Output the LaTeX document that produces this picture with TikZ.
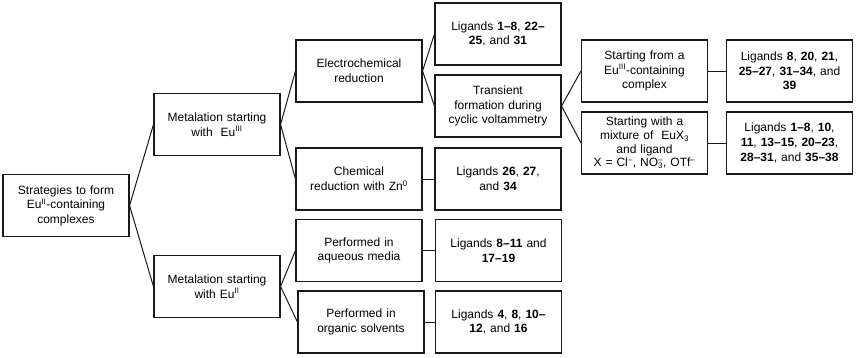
\documentclass[tikz,border=0pt]{standalone}
\usepackage{fontspec}
\setmainfont{Liberation Sans}
\usepackage{tikz}
\tikzset{
  stratbox/.style={draw=black!90, line width=1.1pt, minimum width=126pt, minimum height=62pt,
    text width=124pt, inner sep=1pt, align=center, font=\fontsize{12}{14.6}\selectfont},
  link/.style={draw=black!90, line width=1pt}
}
\newcommand{\Eu}[1]{Eu\textsuperscript{#1}}

\begin{document}
\begin{tikzpicture}[x=1pt, y=1pt]
    \useasboundingbox (0,0) rectangle (856,-357);

    % Levels from left to right
    \node[stratbox] (root) at (66,-205.5) {Strategies to form\\\Eu{II}-containing\\complexes};

    \node[stratbox] (euiii) at (217,-124.5) {Metalation starting\\with\ \ \Eu{III}};
    \node[stratbox] (euii) at (217,-286.5) {Metalation starting\\with \Eu{II}};

    \node[stratbox] (electro) at (359,-71) {Electrochemical\\reduction};
    \node[stratbox] (chem) at (359,-179) {Chemical\\reduction with Zn\textsuperscript{0}};
    \node[stratbox] (aqueous) at (359,-250.5) {Performed in\\aqueous media};
    \node[stratbox] (organic) at (361,-322) {Performed in\\organic solvents};

    \node[stratbox] (ligelectro) at (498,-34) {Ligands \textbf{1–8}, \textbf{22–}\\\textbf{25}, and \textbf{31}};
    \node[stratbox] (transient) at (498,-106) {Transient\\formation during\\cyclic voltammetry};
    \node[stratbox] (ligchem) at (498,-179) {Ligands \textbf{26}, \textbf{27},\\and \textbf{34}};
    \node[stratbox] (ligaqueous) at (498.5,-250.5) {Ligands \textbf{8–11} and\\\textbf{17–19}};
    \node[stratbox] (ligorganic) at (498.5,-322) {Ligands \textbf{4}, \textbf{8}, \textbf{10–}\\\textbf{12}, and \textbf{16}};

    \node[stratbox] (fromeu) at (644.5,-71) {Starting from a\\\Eu{III}-containing\\complex};
    \node[stratbox, font=\fontsize{12}{13.7}\selectfont] (mixture) at (644.5,-143) {Starting with a\\mixture of\ \ EuX\textsubscript{3}\\and ligand\\X = Cl\textsuperscript{–}, NO\rlap{\textsubscript{3}}\textsuperscript{–}, OTf\textsuperscript{–}};

    \node[stratbox] (ligfromeu) at (789.5,-71) {Ligands \textbf{8}, \textbf{20}, \textbf{21},\\\textbf{25–27}, \textbf{31–34}, and\\\textbf{39}};
    \node[stratbox] (ligmixture) at (789.5,-143) {Ligands \textbf{1–8}, \textbf{10},\\\textbf{11}, \textbf{13–15}, \textbf{20–23},\\\textbf{28–31}, and \textbf{35–38}};

    % Connectors
    \draw[link] (root.east) -- (euiii.west);
    \draw[link] (root.east) -- (euii.west);
    \draw[link] (euiii.east) -- (electro.west);
    \draw[link] (euiii.east) -- (chem.west);
    \draw[link] (euii.east) -- (aqueous.west);
    \draw[link] (euii.east) -- (organic.west);
    \draw[link] (electro.east) -- (ligelectro.west);
    \draw[link] (electro.east) -- (transient.west);
    \draw[link] (chem.east) -- (ligchem.west);
    \draw[link] (aqueous.east) -- (ligaqueous.west);
    \draw[link] (organic.east) -- (ligorganic.west);
    \draw[link] (transient.east) -- (fromeu.west);
    \draw[link] (transient.east) -- (mixture.west);
    \draw[link] (fromeu.east) -- (ligfromeu.west);
    \draw[link] (mixture.east) -- (ligmixture.west);
\end{tikzpicture}
\end{document}
